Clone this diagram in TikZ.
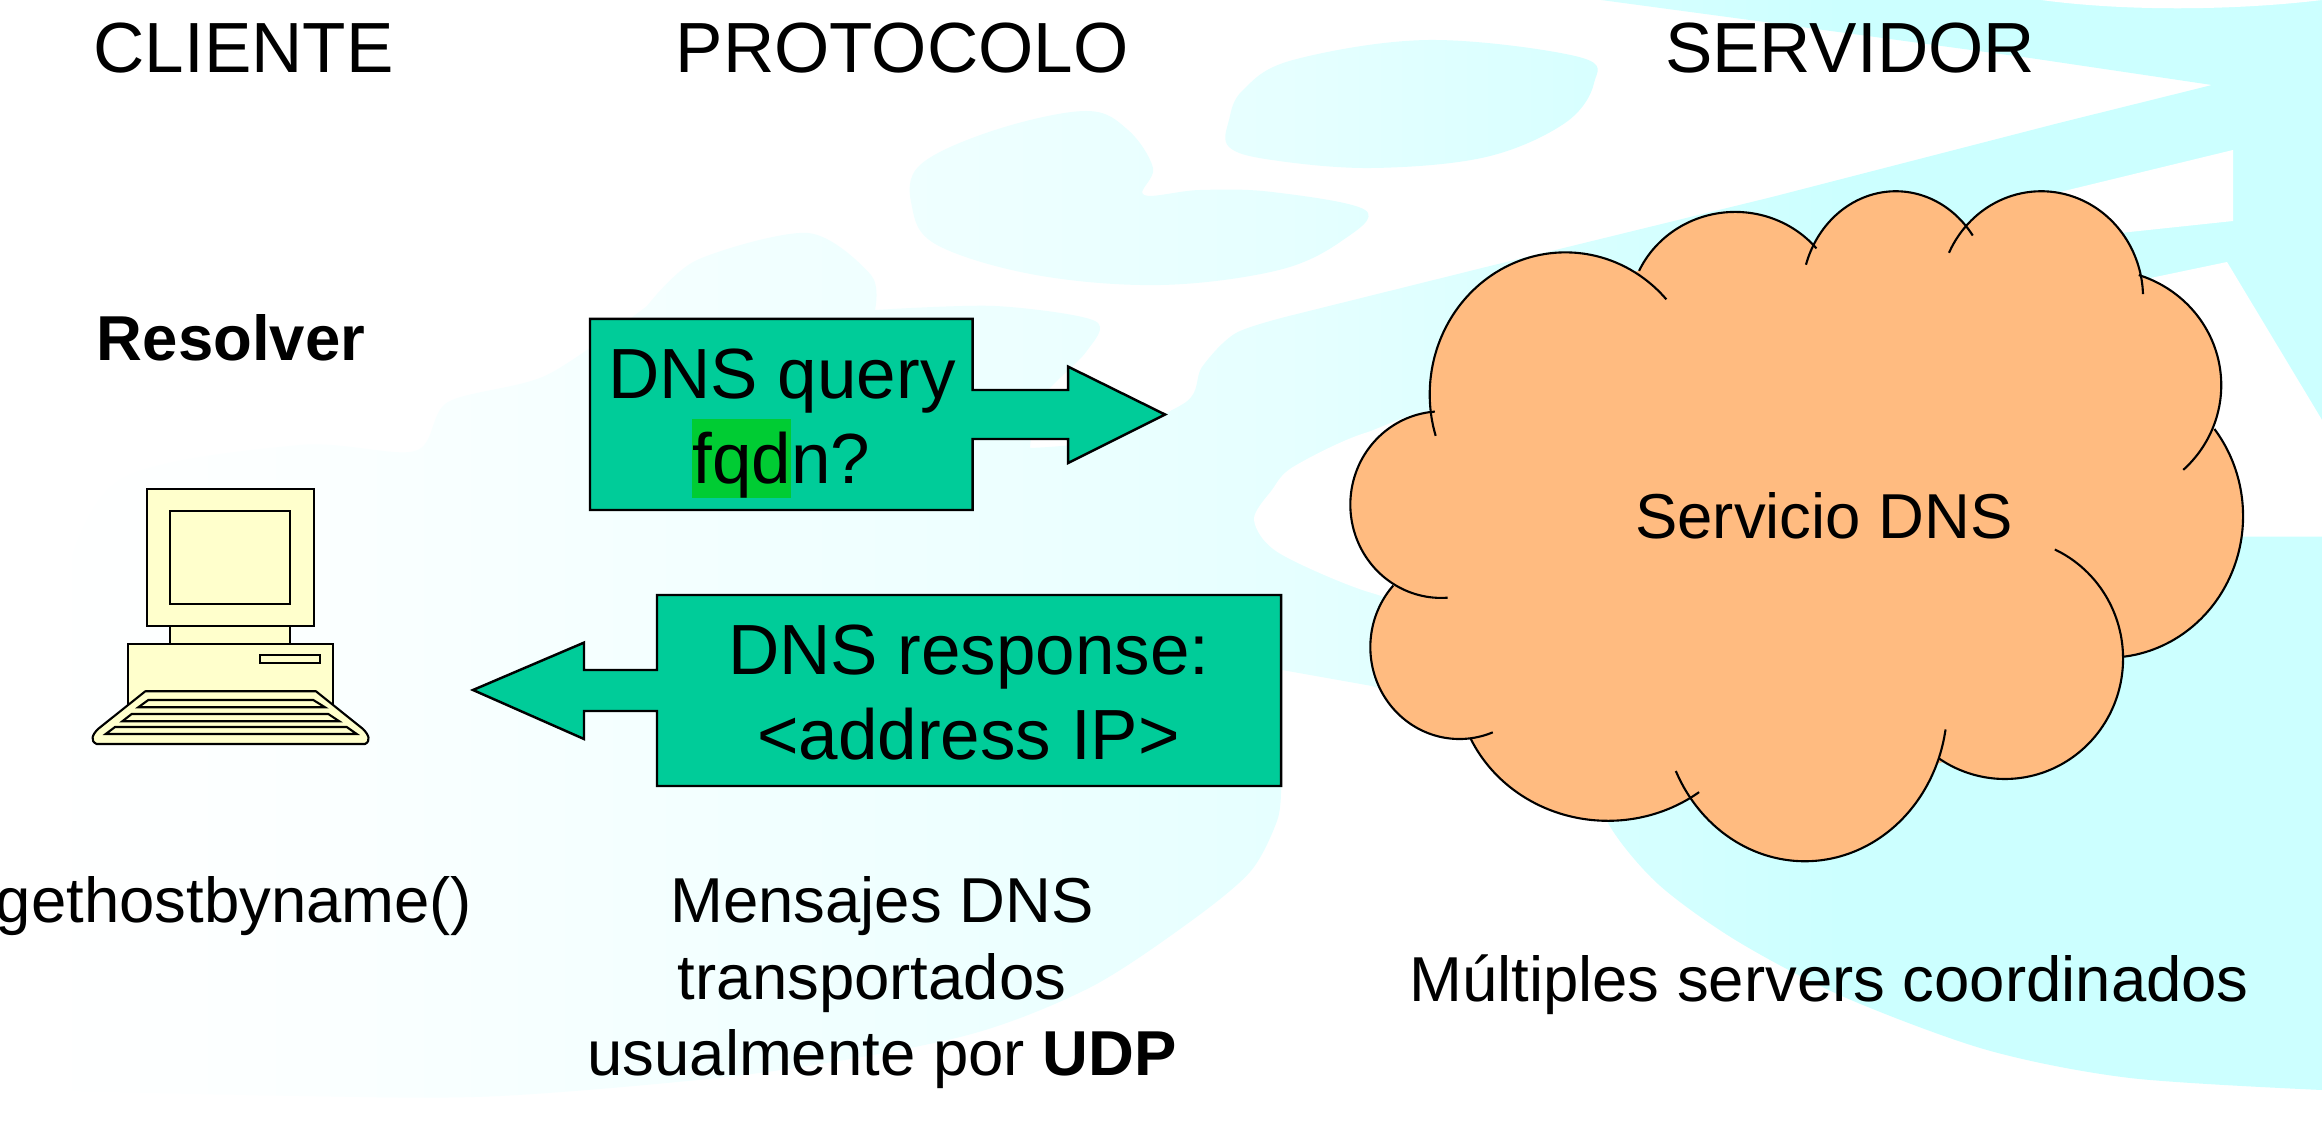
\documentclass[tikz,border=0pt]{standalone}
\usepackage{fontspec}
\setmainfont{Liberation Sans}
\usepackage{xcolor}
\usepackage{tikz}

\definecolor{boxgreen}{HTML}{00CC99}
\definecolor{marker}{HTML}{00CC33}
\definecolor{cloudfill}{HTML}{FFBB80}
\definecolor{pcyellow}{HTML}{FFFFCC}

% the path's box covers 25bp to 75bp of the shading
\pgfdeclarehorizontalshading{skyfade}{100bp}{
    color(0bp)=(white);
    color(25bp)=(white);
    color(30.7bp)=(cyan!1.5);
    color(37.25bp)=(cyan!4);
    color(46bp)=(cyan!7);
    color(52.5bp)=(cyan!10);
    color(64.5bp)=(cyan!20);
    color(100bp)=(cyan!20)
}

% centre x, centre y, x radius, y radius, first angle, last angle
\newcommand{\cloudlobelist}{
    405/510/224/309/163/318,
    685/335/175/222/205/320,
    950/294/155/226/197/325,
    1190/300/168/232/205/358,
    1290/490/197/252/288/407,
    1300/775/223/308/-38/84,
    1130/1085/195/262/-65/124,
    800/1186/235/340/9/155,
    475/1128/250/310/53/155,
    230/1060/147/200/68/222,
    200/750/150/203/86/266
}

\begin{document}
\begin{tikzpicture}[
    x=0.01cm, y=-0.01cm,
    title/.style={anchor=base, font=\fontsize{20.2}{24}\selectfont},
    label/.style={anchor=base, font=\fontsize{18.05}{22}\selectfont},
    callout/.style={draw=black, fill=boxgreen, line width=0.7pt},
    pcpart/.style={draw=black, fill=pcyellow, line width=0.6pt},
    lobe/.style={draw=black, line width=0.6pt}
]
\useasboundingbox (0,0) rectangle (2322,1134);
\fill[white] (0,0) rectangle (2322,1134);

% background
\shade[shading=skyfade]
    (647,306) -- plot[smooth] coordinates {(647,306) (697,260) (808,233) (871,275) (875,310)}
    -- plot[smooth] coordinates {(875,310) (995,306) (1095,321) (1086,352) (1040,400) (1030,448)}
    -- plot[smooth] coordinates {(1030,448) (1100,440) (1186,402) (1202,367) (1236,333) (1293,315)}
    -- (1486,267) -- (1772,197) -- (2059,123) -- (2212,85) -- (2030,58) -- (1772,23) -- (1601,0)
    -- (2322,0) -- (2322,1090)
    -- plot[smooth] coordinates {(2322,1090) (2130,1078) (1987,1050) (1844,997) (1737,941) (1658,884) (1608,823) (1590,760)}
    -- (1372,686) -- (1282,670) -- (1281,790)
    -- plot[smooth] coordinates {(1281,790) (1277,821) (1250,872) (1187,924) (1089,988) (964,1036) (759,1073) (500,1096) (300,1096) (44,1090)}
    -- plot[smooth] coordinates {(44,1090) (40,800) (60,600) (120,480) (300,445) (415,451) (448,402) (547,375) (647,306)}
    -- cycle
    plot[smooth cycle, tension=0.6] coordinates {(1229,120) (1243,90) (1293,60) (1429,40) (1579,57) (1594,83) (1565,123) (1486,157) (1372,168) (1272,160) (1229,147)}
    plot[smooth cycle, tension=0.6] coordinates {(912,207) (920,165) (995,130) (1086,111) (1128,130) (1153,168) (1144,195) (1200,190) (1272,192) (1365,210) (1343,240) (1279,270) (1161,285) (1036,275) (937,245)};
\fill[white] (2041,0) .. controls (2130,12) and (2240,10) .. (2322,0) -- cycle;
\fill[white] (2233,150) -- (2233,221) -- (2120,233) -- (2060,192) -- cycle;
\fill[white] (2141,280) -- (2227,262) -- (2322,420) -- (2322,536.7) -- (2150,536.7) -- cycle;
\fill[white] plot[smooth cycle] coordinates {(1254,520) (1272,490) (1293,467) (1365,433) (1450,420) (1450,600) (1372,593) (1279,553)};

\node[title] (cliente) at (243.6,72.5) {CLIENTE};
\node[title] (protocolo) at (902,72.5) {PROTOCOLO};
\node[title] (servidor) at (1850,72.5) {SERVIDOR};

\node[label, font=\fontsize{18.05}{22}\selectfont\bfseries] (resolver) at (231,361) {Resolver};

% query
\draw[callout] (590,318.8) -- (972.6,318.8) -- (972.6,390) -- (1068,390) -- (1068,366.6) -- (1165,414.5)
    -- (1068,463) -- (1068,439) -- (972.6,439) -- (972.6,510) -- (590,510) -- cycle;
\fill[marker] (691.6,418.7) rectangle (791,498);
\node[title] (query) at (782,399) {DNS query};
\node[title, anchor=base west, inner xsep=0pt] (fqdn) at (691.6,483.5) {fqdn?};

% response
\draw[callout] (657,595) -- (1281,595) -- (1281,786) -- (657,786) -- (657,711) -- (584,711) -- (584,739)
    -- (473,690) -- (584,642.6) -- (584,670) -- (657,670) -- cycle;
\node[title] (response) at (969,674) {DNS response:};
\node[title] (address) at (968.6,759.5) {<address IP>};

% computer
\draw[pcpart] (170.3,626) rectangle (290.3,643.7);
\draw[pcpart] (146.7,488.7) rectangle (314,626);
\draw[pcpart] (170.3,511) rectangle (290.3,604);
\draw[pcpart] (127.7,643.7) rectangle (333.3,712);
\draw[pcpart] (260,655.3) rectangle (320,663);
\draw[pcpart, line join=round] (145.3,691.3) -- (316,691.3) -- (363,729) .. controls (369,735) and (371,741) .. (365,744)
    -- (96.7,744) .. controls (90,741) and (92,735) .. (98,729) -- cycle;
\draw[pcpart] (148.3,700) -- (313.3,700) -- (325,707.3) -- (138.3,707.3) -- cycle;
\draw[pcpart] (131.7,714) -- (328.3,714) -- (339.3,721.3) -- (122.3,721.3) -- cycle;
\draw[pcpart] (115,727) -- (346.7,727) -- (356.7,734) -- (105.7,734) -- cycle;

% cloud
\begin{scope}[shift={(1320,160)}, x=0.00606cm, y=-0.00459cm]
    \fill[cloudfill] (185,550) -- (300,350) -- (527,240) -- (685,180) -- (815,185) -- (945,120) -- (1070,150)
        -- (1200,130) -- (1355,253) -- (1430,400) -- (1475,585) -- (1480,800) -- (1323,1082) -- (1250,1250)
        -- (1022,1312) -- (800,1450) -- (610,1385) -- (450,1380) -- (248,1258) -- (130,1100) -- (120,925)
        -- (110,750) -- cycle;
    \foreach \cx/\cy/\rx/\ry/\angA/\angB in \cloudlobelist
        \fill[cloudfill] plot[domain=\angA:\angB, samples=40, smooth] ({\cx+\rx*cos(\x)},{\cy+\ry*sin(\x)});
    \foreach \cx/\cy/\rx/\ry/\angA/\angB in \cloudlobelist
        \draw[lobe] plot[domain=\angA:\angB, samples=40, smooth] ({\cx+\rx*cos(\x)},{\cy+\ry*sin(\x)});
\end{scope}
\node[label] (servicio) at (1824,538) {Servicio DNS};

\node[label] (gethost) at (234,922) {gethostbyname()};
\node[label] (mensajes) at (882,922) {Mensajes DNS};
\node[label] (transp) at (872,999) {transportados};
\node[label] (usual) at (882,1075) {usualmente por \textbf{UDP}};
\node[label] (multiples) at (1829,1001) {Múltiples servers coordinados};

\end{tikzpicture}
\end{document}
